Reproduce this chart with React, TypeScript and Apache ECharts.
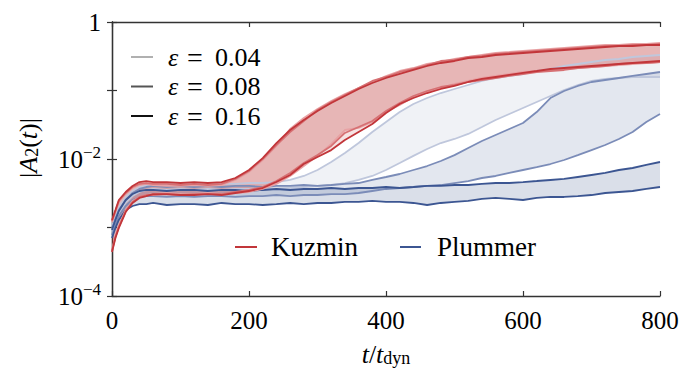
import React, { useEffect, useRef } from 'react';
import * as echarts from 'echarts';

// time in units of t_dyn
const T = [0, 5, 10, 20, 30, 40, 50, 60, 80, 100, 120, 140, 160, 180, 200, 220, 240, 260, 280, 300, 320, 340, 360, 380, 400, 420, 440, 460, 480, 500, 520, 540, 560, 580, 600, 620, 640, 660, 680, 700, 720, 740, 760, 780, 800];

// Kuzmin |A2(t)|
const kuzminUpper04 = [0.00120, 0.00168, 0.00236, 0.00308, 0.00377, 0.00417, 0.00432, 0.00417, 0.00404, 0.00404, 0.00417, 0.00404, 0.00417, 0.00494, 0.00646, 0.00967, 0.0155, 0.0274, 0.0397, 0.0537, 0.0703, 0.0889, 0.1088, 0.1331, 0.1629, 0.1927, 0.2131, 0.2438, 0.2607, 0.2884, 0.3084, 0.3299, 0.3528, 0.3648, 0.3773, 0.3902, 0.4035, 0.4173, 0.4315, 0.4462, 0.4615, 0.4615, 0.4772, 0.4772, 0.4936];
const kuzminLower04 = [0.000469, 0.000751, 0.00105, 0.00180, 0.00244, 0.00279, 0.00298, 0.00308, 0.00319, 0.00308, 0.00308, 0.00319, 0.00308, 0.00319, 0.00330, 0.00365, 0.00432, 0.00565, 0.00790, 0.0111, 0.0166, 0.0265, 0.0284, 0.0347, 0.0485, 0.0614, 0.0804, 0.0951, 0.1088, 0.1245, 0.1377, 0.1523, 0.1629, 0.1742, 0.1863, 0.1927, 0.1993, 0.2061, 0.2131, 0.2204, 0.2279, 0.2357, 0.2438, 0.2521, 0.2607];
const kuzminUpper08 = [0.00124, 0.00174, 0.00244, 0.00319, 0.00390, 0.00432, 0.00446, 0.00432, 0.00432, 0.00417, 0.00432, 0.00417, 0.00432, 0.00511, 0.00668, 0.00999, 0.0160, 0.0248, 0.0359, 0.0519, 0.0679, 0.0860, 0.1088, 0.1377, 0.1575, 0.1863, 0.2061, 0.2357, 0.2696, 0.2788, 0.3084, 0.3190, 0.3411, 0.3528, 0.3648, 0.3773, 0.3902, 0.4035, 0.4173, 0.4315, 0.4462, 0.4462, 0.4615, 0.4615, 0.4772];
const kuzminLower08 = [0.000454, 0.000727, 0.00102, 0.00174, 0.00236, 0.00279, 0.00298, 0.00298, 0.00308, 0.00298, 0.00308, 0.00308, 0.00308, 0.00330, 0.00353, 0.00390, 0.00477, 0.00625, 0.00874, 0.0114, 0.0155, 0.0240, 0.0293, 0.0359, 0.0502, 0.0657, 0.0831, 0.0983, 0.1125, 0.1203, 0.1331, 0.1424, 0.1523, 0.1629, 0.1742, 0.1863, 0.1927, 0.1993, 0.2131, 0.2204, 0.2279, 0.2438, 0.2521, 0.2521, 0.2607];
const kuzminUpper16 = [0.00129, 0.00180, 0.00252, 0.00330, 0.00404, 0.00461, 0.00477, 0.00461, 0.00461, 0.00446, 0.00461, 0.00446, 0.00461, 0.00528, 0.00691, 0.0103, 0.0171, 0.0265, 0.0371, 0.0502, 0.0657, 0.0831, 0.1052, 0.1287, 0.1523, 0.1742, 0.1993, 0.2279, 0.2521, 0.2696, 0.2982, 0.3084, 0.3299, 0.3411, 0.3528, 0.3648, 0.3773, 0.3902, 0.4035, 0.4173, 0.4315, 0.4462, 0.4462, 0.4615, 0.4615];
const kuzminLower16 = [0.000439, 0.000703, 0.000983, 0.00168, 0.00228, 0.00270, 0.00288, 0.00308, 0.00308, 0.00298, 0.00298, 0.00308, 0.00298, 0.00319, 0.00341, 0.00377, 0.00461, 0.00584, 0.00845, 0.0107, 0.0135, 0.0189, 0.0248, 0.0324, 0.0469, 0.0635, 0.0777, 0.0919, 0.1052, 0.1164, 0.1331, 0.1473, 0.1575, 0.1685, 0.1802, 0.1927, 0.2061, 0.2131, 0.2204, 0.2279, 0.2357, 0.2438, 0.2521, 0.2607, 0.2696];

// Plummer |A2(t)|
const plummerUpper04 = [0.00105, 0.00147, 0.00199, 0.00279, 0.00341, 0.00390, 0.00417, 0.00417, 0.00432, 0.00417, 0.00432, 0.00417, 0.00432, 0.00432, 0.00446, 0.00446, 0.00461, 0.00494, 0.00565, 0.00691, 0.00904, 0.0122, 0.0171, 0.0248, 0.0347, 0.0485, 0.0635, 0.0777, 0.0919, 0.1052, 0.1203, 0.1377, 0.1523, 0.1629, 0.1742, 0.1927, 0.2061, 0.2279, 0.2438, 0.2607, 0.2788, 0.2884, 0.3084, 0.3190, 0.3299];
const plummerLower04 = [0.000860, 0.00120, 0.00163, 0.00228, 0.00288, 0.00330, 0.00353, 0.00365, 0.00353, 0.00365, 0.00353, 0.00365, 0.00353, 0.00365, 0.00365, 0.00377, 0.00365, 0.00377, 0.00390, 0.00404, 0.00417, 0.00446, 0.00494, 0.00565, 0.00691, 0.00874, 0.0111, 0.0140, 0.0171, 0.0196, 0.0232, 0.0293, 0.0371, 0.0454, 0.0555, 0.0679, 0.0831, 0.1017, 0.1203, 0.1377, 0.1473, 0.1523, 0.1575, 0.1575, 0.1575];
const plummerUpper08 = [0.000983, 0.00133, 0.00180, 0.00252, 0.00319, 0.00365, 0.00390, 0.00404, 0.00390, 0.00404, 0.00390, 0.00404, 0.00390, 0.00404, 0.00404, 0.00390, 0.00404, 0.00404, 0.00417, 0.00404, 0.00417, 0.00432, 0.00446, 0.00494, 0.00546, 0.00604, 0.00691, 0.00790, 0.00935, 0.0114, 0.0145, 0.0183, 0.0224, 0.0274, 0.0335, 0.0485, 0.0777, 0.0983, 0.1164, 0.1331, 0.1424, 0.1523, 0.1629, 0.1742, 0.1863];
const plummerLower08 = [0.000777, 0.00109, 0.00147, 0.00206, 0.00252, 0.00279, 0.00288, 0.00288, 0.00279, 0.00288, 0.00279, 0.00288, 0.00288, 0.00279, 0.00288, 0.00288, 0.00298, 0.00288, 0.00298, 0.00298, 0.00308, 0.00308, 0.00319, 0.00341, 0.00365, 0.00377, 0.00390, 0.00404, 0.00417, 0.00446, 0.00477, 0.00528, 0.00565, 0.00625, 0.00691, 0.00764, 0.00845, 0.00967, 0.0114, 0.0135, 0.0160, 0.0196, 0.0248, 0.0347, 0.0454];
const plummerUpper16 = [0.000919, 0.00129, 0.00174, 0.00252, 0.00308, 0.00341, 0.00353, 0.00353, 0.00341, 0.00353, 0.00353, 0.00341, 0.00353, 0.00353, 0.00341, 0.00353, 0.00365, 0.00353, 0.00365, 0.00365, 0.00377, 0.00365, 0.00377, 0.00377, 0.00390, 0.00377, 0.00390, 0.00404, 0.00404, 0.00417, 0.00417, 0.00432, 0.00446, 0.00446, 0.00461, 0.00477, 0.00494, 0.00511, 0.00546, 0.00584, 0.00625, 0.00691, 0.00739, 0.00818, 0.00904];
const plummerLower16 = [0.000703, 0.000983, 0.00129, 0.00180, 0.00206, 0.00220, 0.00220, 0.00228, 0.00213, 0.00220, 0.00220, 0.00213, 0.00228, 0.00220, 0.00220, 0.00213, 0.00220, 0.00228, 0.00220, 0.00228, 0.00228, 0.00236, 0.00236, 0.00244, 0.00236, 0.00236, 0.00228, 0.00213, 0.00228, 0.00236, 0.00244, 0.00261, 0.00270, 0.00261, 0.00252, 0.00270, 0.00279, 0.00279, 0.00288, 0.00298, 0.00319, 0.00330, 0.00341, 0.00365, 0.00390];

const epsLabels = ['0.04', '0.08', '0.16'];
const xTicks = [0, 200, 400, 600, 800];

const FONT = 'Liberation Serif';
const RED = ['#e8a2a4', '#d67073', '#c2363a'];
const BLUE = ['#bfc7dc', '#7b8cb8', '#3c5692'];
const RED_FILL = 'rgba(194,54,58,0.14)';
const BLUE_FILL = ['rgba(59,83,140,0.075)', 'rgba(59,83,140,0.14)', 'rgba(59,83,140,0.19)'];
const EPS_SWATCH = ['#b0b0b0', '#555555', '#111111'];

function band(upper: number[], lower: number[], fill: string) {
  return {
    type: 'custom',
    coordinateSystem: 'cartesian2d',
    silent: true,
    data: [[T[0], upper[0]]],
    renderItem: (_p: any, api: any) => {
      const pts: number[][] = [];
      for (let i = 0; i < T.length; i++) pts.push(api.coord([T[i], upper[i]]));
      for (let i = T.length - 1; i >= 0; i--) pts.push(api.coord([T[i], lower[i]]));
      return { type: 'polygon', shape: { points: pts }, style: { fill, stroke: null } };
    },
  };
}

function line(vals: number[], color: string, width = 1.8) {
  return {
    type: 'line',
    data: T.map((t, i) => [t, vals[i]]),
    showSymbol: false,
    symbol: 'none',
    silent: true,
    lineStyle: { color, width },
    itemStyle: { color },
  };
}

function txt(x: number, y: number, text: string, size: number, italic = false) {
  return {
    type: 'text', x, y,
    style: {
      text, fontFamily: FONT, fontSize: size, fontStyle: italic ? 'italic' : 'normal',
      fill: '#000', textVerticalAlign: 'middle', verticalAlign: 'middle',
    },
  };
}

export default function App() {
  const ref = useRef<HTMLDivElement>(null);
  useEffect(() => {
    const chart = echarts.init(ref.current!, null, { renderer: 'svg' });
    const axisColor = '#333';
    const base = { fontFamily: FONT, fontSize: 25, color: '#000' };
    const titleRich = {
      a: { fontFamily: FONT, fontSize: 26, lineHeight: 26, verticalAlign: 'top', fill: '#000', color: '#000' },
      i: { fontFamily: FONT, fontSize: 26, fontStyle: 'italic', lineHeight: 26, verticalAlign: 'top', fill: '#000', color: '#000' },
      s: { fontFamily: FONT, fontSize: 18, lineHeight: 14, verticalAlign: 'bottom', fill: '#000', color: '#000' },
    };
    const legendItems: any[] = [];
    epsLabels.forEach((lab, k) => {
      const y = 57 + k * 29.5;
      legendItems.push({ type: 'line', shape: { x1: 131, y1: y, x2: 153, y2: y }, style: { stroke: EPS_SWATCH[k], lineWidth: 2 } });
      legendItems.push(txt(168, y, 'ε', 26, true));
      legendItems.push(txt(187, y, '=', 28));
      legendItems.push(txt(215, y, lab, 26));
    });
    legendItems.push({ type: 'line', shape: { x1: 235, y1: 247, x2: 257, y2: 247 }, style: { stroke: RED[2], lineWidth: 2 } });
    legendItems.push(txt(271, 247, 'Kuzmin', 27));
    legendItems.push({ type: 'line', shape: { x1: 400, y1: 247, x2: 421, y2: 247 }, style: { stroke: BLUE[2], lineWidth: 2 } });
    legendItems.push(txt(437, 247, 'Plummer', 27));

    const option: any = {
      animation: false,
      backgroundColor: '#fff',
      grid: { left: 112, right: 40, top: 22, bottom: 77, containLabel: false, outerBoundsMode: 'none' },
      xAxis: [
        {
          type: 'value', min: 0, max: 800, interval: 200, position: 'bottom',
          axisLine: { show: true, lineStyle: { color: axisColor, width: 1.3 } },
          axisTick: { show: true, inside: true, length: 5, lineStyle: { color: axisColor, width: 1.2 } },
          axisLabel: { ...base, margin: 12, formatter: (v: number) => (xTicks.includes(v) ? String(v) : '') },
          splitLine: { show: false },
        },
        {
          type: 'value', min: 0, max: 800, interval: 200, position: 'top',
          axisLine: { show: true, lineStyle: { color: axisColor, width: 1.3 } },
          axisTick: { show: true, inside: true, length: 5, lineStyle: { color: axisColor, width: 1.2 } },
          axisLabel: { show: false },
          splitLine: { show: false },
        },
      ],
      yAxis: [
        {
          type: 'log', logBase: 10, min: 1e-4, max: 1, position: 'left',
          axisLine: { show: true, lineStyle: { color: axisColor, width: 1.3 } },
          axisTick: { show: true, inside: true, length: 5, lineStyle: { color: axisColor, width: 1.2 } },
          axisLabel: {
            ...base, margin: 11,
            formatter: (v: number) => {
              const e = Math.round(Math.log10(v));
              if (e === 0) return '1';
              if (e % 2 !== 0) return '';
              return `{b|10}{s|−${-e}}`;
            },
            rich: {
              b: { fontFamily: FONT, fontSize: 25, lineHeight: 30, color: '#000' },
              s: { fontFamily: FONT, fontSize: 17, lineHeight: 10, verticalAlign: 'top', color: '#000' },
            },
          },
          splitLine: { show: false },
        },
        {
          type: 'log', logBase: 10, min: 1e-4, max: 1, position: 'right',
          axisLine: { show: true, lineStyle: { color: axisColor, width: 1.3 } },
          axisTick: { show: true, inside: true, length: 5, lineStyle: { color: axisColor, width: 1.2 } },
          axisLabel: { show: false },
          splitLine: { show: false },
        },
      ],
      series: [
        band(plummerUpper04, plummerLower04, BLUE_FILL[0]),
        band(plummerUpper08, plummerLower08, BLUE_FILL[1]),
        band(plummerUpper16, plummerLower16, BLUE_FILL[2]),
        line(plummerUpper04, BLUE[0]), line(plummerLower04, BLUE[0]),
        line(plummerUpper08, BLUE[1]), line(plummerLower08, BLUE[1]),
        line(plummerUpper16, BLUE[2]), line(plummerLower16, BLUE[2]),
        band(kuzminUpper04, kuzminLower04, RED_FILL),
        band(kuzminUpper08, kuzminLower08, RED_FILL),
        band(kuzminUpper16, kuzminLower16, RED_FILL),
        line(kuzminUpper04, RED[0]), line(kuzminLower04, RED[0]),
        line(kuzminUpper08, RED[1]), line(kuzminLower08, RED[1]),
        line(kuzminUpper16, RED[2]), line(kuzminLower16, RED[2]),
      ],
      graphic: [
        ...legendItems,
        {
          type: 'text', x: 386, y: 354,
          style: { text: '{i|t}{a|/}{i|t}{s|dyn}', rich: titleRich, textAlign: 'center', align: 'center', textVerticalAlign: 'middle', verticalAlign: 'middle' },
        },
        {
          type: 'text', x: 28, y: 148, rotation: Math.PI / 2,
          style: { text: '{a||}{i|A}{s|2}{a|(}{i|t}{a|)|}', rich: titleRich, textAlign: 'center', align: 'center', textVerticalAlign: 'middle', verticalAlign: 'middle' },
        },
      ],
    };
    chart.setOption(option);
    return () => chart.dispose();
  }, []);
  return <div ref={ref} style={{ position: 'fixed', left: 0, top: 0, width: 700, height: 373, background: '#fff' }} />;
}
